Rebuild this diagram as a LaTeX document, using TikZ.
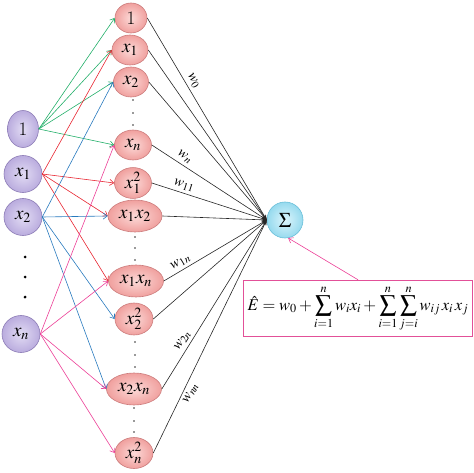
\documentclass[tikz,border=0pt]{standalone}
\usepackage{mathptmx}
\usetikzlibrary{shapes.geometric,arrows.meta}
\definecolor{cgreen}{RGB}{34,175,105}
\definecolor{cred}{RGB}{232,36,48}
\definecolor{cblue}{RGB}{40,122,190}
\definecolor{cpink}{RGB}{236,62,150}
\definecolor{boxpink}{RGB}{226,80,152}
\definecolor{purpIn}{RGB}{226,220,244}
\definecolor{purpOut}{RGB}{186,172,222}
\definecolor{purpB}{RGB}{140,124,182}
\definecolor{pinkIn}{RGB}{252,218,216}
\definecolor{pinkOut}{RGB}{240,160,158}
\definecolor{pinkB}{RGB}{204,124,124}
\definecolor{cyanIn}{RGB}{220,245,252}
\definecolor{cyanOut}{RGB}{150,218,238}
\definecolor{cyanB}{RGB}{104,190,216}
\begin{document}
\begin{tikzpicture}[x=1pt,y=-1pt,
  inp/.style={ellipse, draw=purpB, line width=0.6pt, inner color=purpIn, outer color=purpOut,
    inner sep=0pt, minimum width=38pt, minimum height=37pt, font=\fontsize{19}{21}\selectfont},
  mid/.style={ellipse, draw=pinkB, line width=0.6pt, inner color=pinkIn, outer color=pinkOut,
    inner sep=0pt, minimum width=37pt, minimum height=30pt, font=\fontsize{19}{21}\selectfont},
  wide/.style={mid, minimum width=55pt, minimum height=32pt},
  sumnode/.style={circle, draw=cyanB, line width=0.6pt, inner color=cyanIn, outer color=cyanOut,
    inner sep=0pt, minimum size=36pt, font=\fontsize{21}{23}\selectfont},
  con/.style={line width=0.6pt, -{Straight Barb[length=4pt,width=6pt]}},
  wire/.style={line width=0.6pt, draw=black!85, -{Stealth[length=5pt,width=4pt]}},
  wlab/.style={font=\fontsize{14.5}{16}\selectfont, sloped, inner sep=3pt},
  dotL/.style={circle, fill=black, inner sep=0pt, minimum size=3pt},
  dotM/.style={circle, fill=black!80, inner sep=0pt, minimum size=1.8pt}
]
\useasboundingbox (0,0) rectangle (474,473);

% input nodes
\node[inp, minimum width=31pt] (i1) at (23,129) {1};
\node[inp] (ix1) at (23,174) {$x_1$};
\node[inp] (ix2) at (23,217) {$x_2$};
\node[inp] (ixn) at (21,334) {$x_n$};
\node[dotL] (dl1) at (25,257) {};
\node[dotL] (dl2) at (25,277) {};
\node[dotL] (dl3) at (25,297) {};

% middle nodes
\node[mid, minimum width=32pt] (m1) at (131,18) {1};
\node[mid, minimum width=36pt] (mx1) at (130,50) {$x_1$};
\node[mid, minimum width=35pt] (mx2) at (131,82) {$x_2$};
\node[mid] (mxn) at (133,145) {$x_n$};
\node[mid] (mx11) at (133,183) {$x_1^2$};
\node[wide, minimum width=54pt] (mx12) at (135,216) {$x_1x_2$};
\node[wide] (mx1n) at (136,281) {$x_1x_n$};
\node[mid, minimum width=38pt, minimum height=32pt] (mx22) at (134,319) {$x_2^2$};
\node[wide] (mx2n) at (134,389) {$x_2x_n$};
\node[mid, minimum width=38pt, minimum height=31pt] (mxnn) at (134,453) {$x_n^2$};

\node[dotM] (d1) at (133,100) {};
\node[dotM] (d2) at (133,113) {};
\node[dotM] (d3) at (133,125) {};
\node[dotM] (d4) at (135,237) {};
\node[dotM] (d5) at (135,248) {};
\node[dotM] (d6) at (135,260) {};
\node[dotM] (d7) at (135,342) {};
\node[dotM] (d8) at (135,355) {};
\node[dotM] (d9) at (135,367) {};
\node[dotM] (d10) at (134,408) {};
\node[dotM] (d11) at (134,421) {};
\node[dotM] (d12) at (134,432) {};

% sum node and formula
\node[sumnode] (s) at (285,220) {$\Sigma$};
\node[draw=boxpink, line width=1.5pt, minimum width=229pt, minimum height=56pt, inner sep=1pt,
  font=\fontsize{16.5}{19}\selectfont] (box) at (358,308.5)
  {$\displaystyle \hat{E} = w_0 + \sum_{i=1}^{n} w_i x_i + \sum_{i=1}^{n}\sum_{j=i}^{n} w_{ij}\, x_i\, x_j$};
\draw[con, cpink] (box.north) -- (s.-80);

% coloured connectors
\foreach \t in {m1,mx1,mx2,mxn} \draw[con, cgreen] (i1.east) -- (\t.west);
\foreach \t in {mx1,mx11,mx12,mx1n} \draw[con, cred] (ix1.east) -- (\t.west);
\foreach \t in {mx2,mx12,mx22,mx2n} \draw[con, cblue] (ix2.east) -- (\t.west);
\foreach \t in {mxn,mx1n,mx2n,mxnn} \draw[con, cpink] (ixn.east) -- (\t.west);

% wires to sum
\draw[wire] (m1.east) -- node[wlab, above, pos=0.33] {$w_0$} (s.west);
\draw[wire] (mx1.east) -- (s.west);
\draw[wire] (mx2.east) -- (s.west);
\draw[wire] (mxn.east) -- node[wlab, above, pos=0.25] {$w_n$} (s.west);
\draw[wire] (mx11.east) -- node[wlab, above, pos=0.26] {$w_{11}$} (s.west);
\draw[wire] (mx12.east) -- (s.west);
\draw[wire] (mx1n.east) -- node[wlab, above, pos=0.2] {$w_{1n}$} (s.west);
\draw[wire] (mx22.east) -- (s.west);
\draw[wire] (mx2n.east) -- node[wlab, above, pos=0.26] {$w_{2n}$} (s.west);
\draw[wire] (mxnn.east) -- node[wlab, below, pos=0.27] {$w_{nn}$} (s.west);
\end{tikzpicture}
\end{document}
